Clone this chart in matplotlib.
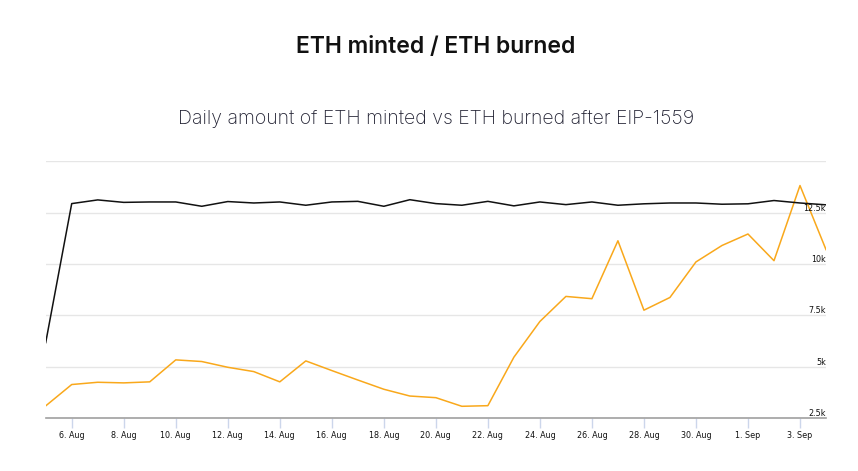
import datetime as dt
import matplotlib
matplotlib.use("Agg")
import matplotlib.pyplot as plt

# daily values, 5 Aug - 4 Sep 2021
start = dt.date(2021, 8, 5)
dates = [start + dt.timedelta(days=i) for i in range(31)]

eth_minted = [6170, 12940, 13120, 13000, 13020, 13020, 12810, 13040, 12970, 13020,
              12860, 13020, 13050, 12810, 13130, 12940, 12860, 13050, 12830, 13020,
              12890, 13020, 12860, 12930, 12970, 12970, 12910, 12930, 13090, 12970,
              12880]
eth_burned = [3090, 4130, 4240, 4210, 4260, 5330, 5250, 4970, 4760, 4260,
              5280, 4810, 4350, 3900, 3570, 3490, 3070, 3100, 5460, 7200,
              8420, 8310, 11130, 7750, 8370, 10100, 10900, 11460, 10160, 13820,
              10700]

y_ticks = [2500, 5000, 7500, 10000, 12500, 15000]
y_labels = ["2.5k", "5k", "7.5k", "10k", "12.5k", ""]

plt.rcParams['font.family'] = ['DejaVu Sans']

fig = plt.figure(figsize=(8.58, 4.71), dpi=100)
ax = fig.add_axes([45.7 / 858, 53 / 471, (826 - 45.7) / 858, (418 - 161.3) / 471])

ax.plot(dates, eth_burned, color="#f9a81b", lw=1.1, zorder=3)
ax.plot(dates, eth_minted, color="#111111", lw=1.1, zorder=3)

ax.set_xlim(dates[0], dates[-1])
ax.set_ylim(2500, 15000)

# grid
for v in y_ticks:
    ax.axhline(v, color="#e6e6e6", lw=1, zorder=1)
ax.set_yticks([])
for v, lab in zip(y_ticks, y_labels):
    ax.text(1.0, v, lab, transform=ax.get_yaxis_transform(), ha="right", va="bottom",
            fontsize=5.8, color="#111111", zorder=4)

# x axis
xt = [start + dt.timedelta(days=i) for i in range(1, 31, 2)]
ax.set_xticks(xt)
ax.set_xticklabels([f"{d.day}. {d.strftime('%b')}" for d in xt], fontsize=5.8, color="#111111")
ax.tick_params(axis="x", length=7, width=1, color="#ccd6eb", pad=2)
for s in ["top", "right", "left"]:
    ax.spines[s].set_visible(False)
ax.spines["bottom"].set_color("#a0a0a0")
ax.spines["bottom"].set_linewidth(1.2)
ax.spines["bottom"].set_zorder(5)

fig.text(436 / 858, 1 - 47 / 471, "ETH minted / ETH burned", ha="center", va="center",
         fontsize=16.5, fontweight="semibold", family="Inter", color="#111111")
fig.text(436 / 858, 1 - 119 / 471, "Daily amount of ETH minted vs ETH burned after EIP-1559",
         ha="center", va="center", fontsize=14, family="Inter", fontweight="light",
         color="#222233")

fig.savefig("out.png", dpi=100)
